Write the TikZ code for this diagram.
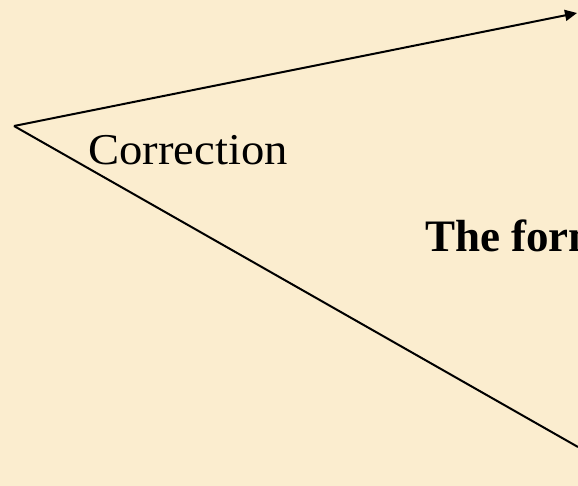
\documentclass[tikz,border=0pt]{standalone}
\usepackage{fontspec}
\setmainfont{Liberation Serif}
\usepackage{xcolor}
\usepackage{tikz}
\usetikzlibrary{arrows.meta}
\definecolor{parchment}{RGB}{251,237,207}

\begin{document}
\begin{tikzpicture}[x=1pt, y=-1pt,
  lbl/.style={anchor=base west, inner sep=0pt, text=black},
  arr/.style={-{Triangle[length=12pt, width=11pt]}, line width=2pt},
  ln/.style={line width=2pt}
]
\fill[parchment] (0,0) rectangle (578,486);
\useasboundingbox (0,0) rectangle (578,486);

\coordinate (O) at (14,126);
\coordinate (T) at (577,13);
\coordinate (B) at (578,447);

\node[lbl, font=\fontsize{44}{52}\selectfont\addfontfeature{FakeStretch=1.06}] (corr) at (88,165) {Correction};
\node[lbl, font=\fontsize{45}{54}\selectfont\bfseries] (form) at (425,252) {The form};

\draw[arr] (O) -- (T);
\draw[ln] (O) -- (B);
\end{tikzpicture}
\end{document}
